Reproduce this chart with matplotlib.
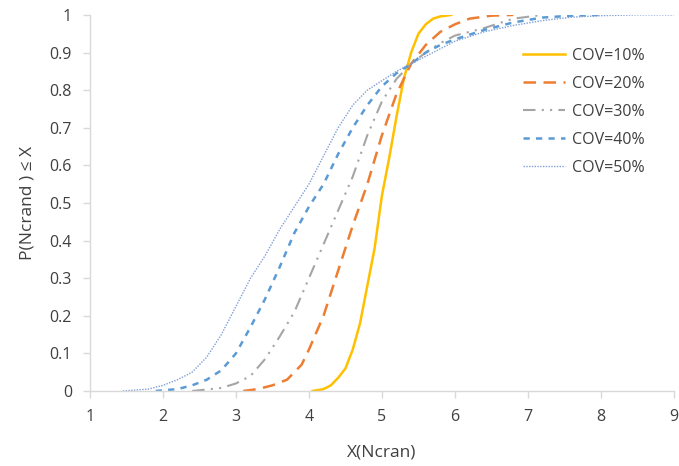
import matplotlib.pyplot as plt

plt.rcParams['font.family'] = ['Open Sans', 'DejaVu Sans']

# COV=10%
x10 = [4.05, 4.2, 4.3, 4.4, 4.5, 4.6, 4.7, 4.8, 4.9, 5.0, 5.1, 5.2, 5.3, 5.4, 5.5, 5.6, 5.7, 5.8, 5.95]
y10 = [0, 0.005, 0.015, 0.035, 0.06, 0.11, 0.18, 0.28, 0.38, 0.52, 0.62, 0.73, 0.83, 0.9, 0.95, 0.975, 0.99, 0.996, 1.0]

# COV=20%
x20 = [3.1, 3.3, 3.5, 3.7, 3.9, 4.0, 4.2, 4.4, 4.6, 4.8, 5.0, 5.2, 5.4, 5.6, 5.8, 6.0, 6.2, 6.5, 6.8]
y20 = [0, 0.005, 0.015, 0.03, 0.07, 0.11, 0.2, 0.32, 0.44, 0.55, 0.68, 0.79, 0.87, 0.92, 0.955, 0.975, 0.99, 0.998, 1.0]

# COV=30%
x30 = [2.4, 2.8, 3.0, 3.2, 3.4, 3.6, 3.8, 4.0, 4.2, 4.4, 4.6, 4.8, 5.0, 5.2, 5.4, 5.6, 5.8, 6.0, 6.4, 6.8, 7.2]
y30 = [0, 0.008, 0.02, 0.04, 0.085, 0.145, 0.21, 0.3, 0.39, 0.48, 0.57, 0.68, 0.77, 0.83, 0.87, 0.9, 0.925, 0.945, 0.965, 0.99, 1.0]

# COV=40%
x40 = [1.9, 2.2, 2.4, 2.6, 2.8, 3.0, 3.2, 3.4, 3.6, 3.8, 4.0, 4.2, 4.4, 4.6, 4.8, 5.0, 5.2, 5.4, 5.6, 5.8, 6.0, 6.4, 6.8, 7.2, 7.6, 8.0]
y40 = [0, 0.005, 0.015, 0.03, 0.055, 0.1, 0.17, 0.245, 0.33, 0.42, 0.49, 0.55, 0.63, 0.7, 0.76, 0.81, 0.845, 0.87, 0.9, 0.92, 0.935, 0.96, 0.98, 0.993, 0.998, 1.0]

# COV=50%
x50 = [1.45, 1.8, 2.0, 2.2, 2.4, 2.6, 2.8, 3.0, 3.2, 3.4, 3.6, 3.8, 4.0, 4.2, 4.4, 4.6, 4.8, 5.0, 5.2, 5.4, 5.6, 5.8, 6.0, 6.4, 6.8, 7.2, 7.6, 8.0, 8.5, 9.0]
y50 = [0, 0.005, 0.015, 0.03, 0.05, 0.09, 0.15, 0.225, 0.3, 0.36, 0.43, 0.49, 0.55, 0.625, 0.7, 0.76, 0.8, 0.825, 0.85, 0.87, 0.89, 0.91, 0.93, 0.955, 0.972, 0.985, 0.994, 0.998, 1.0, 1.0]

labels = ["COV=10%", "COV=20%", "COV=30%", "COV=40%", "COV=50%"]

fig = plt.figure(figsize=(6.79, 4.66), dpi=100)
ax = fig.add_axes([0.1325, 0.161, 0.86, 0.807])

ax.plot(x10, y10, color='#FFC000', lw=1.8, ls='-', label=labels[0])
ax.plot(x20, y20, color='#ED7D31', lw=1.8, ls=(0, (5, 3)), label=labels[1])
ax.plot(x30, y30, color='#A5A5A5', lw=1.5, ls=(0, (6, 3, 1, 3, 1, 3)), label=labels[2])
ax.plot(x40, y40, color='#5B9BD5', lw=1.8, ls=(0, (2.5, 2.5)), label=labels[3])
ax.plot(x50, y50, color='#7F9FD8', lw=1.0, ls=(0, (1, 1)), label=labels[4])

ax.set_xlim(1, 9)
ax.set_ylim(0, 1)
ax.set_xticks(range(1, 10))
ax.set_yticks([i / 10 for i in range(11)])
ax.set_yticklabels(['0', '0.1', '0.2', '0.3', '0.4', '0.5', '0.6', '0.7', '0.8', '0.9', '1'])

for s in ['top', 'right']:
    ax.spines[s].set_visible(False)
for s in ['left', 'bottom']:
    ax.spines[s].set_color('#D9D9D9')
    ax.spines[s].set_linewidth(1.0)
ax.tick_params(colors='#D9D9D9', labelcolor='#404040', labelsize=11.5, length=5, width=1.0)
ax.tick_params(axis='x', pad=8)
ax.tick_params(axis='y', pad=8)

ax.set_xlabel("X(Ncran)", fontsize=12.5, color='#404040', labelpad=14)
ax.set_ylabel("P(Ncrand ) \u2264 X", fontsize=12.5, color='#404040', labelpad=10)

leg = ax.legend(loc='upper left', bbox_to_anchor=(0.717, 0.951), frameon=False,
                fontsize=11.5, handlelength=2.6, handletextpad=0.45, labelspacing=0.75,
                labelcolor='#404040')

fig.savefig("out.png", dpi=100)
plt.close(fig)
